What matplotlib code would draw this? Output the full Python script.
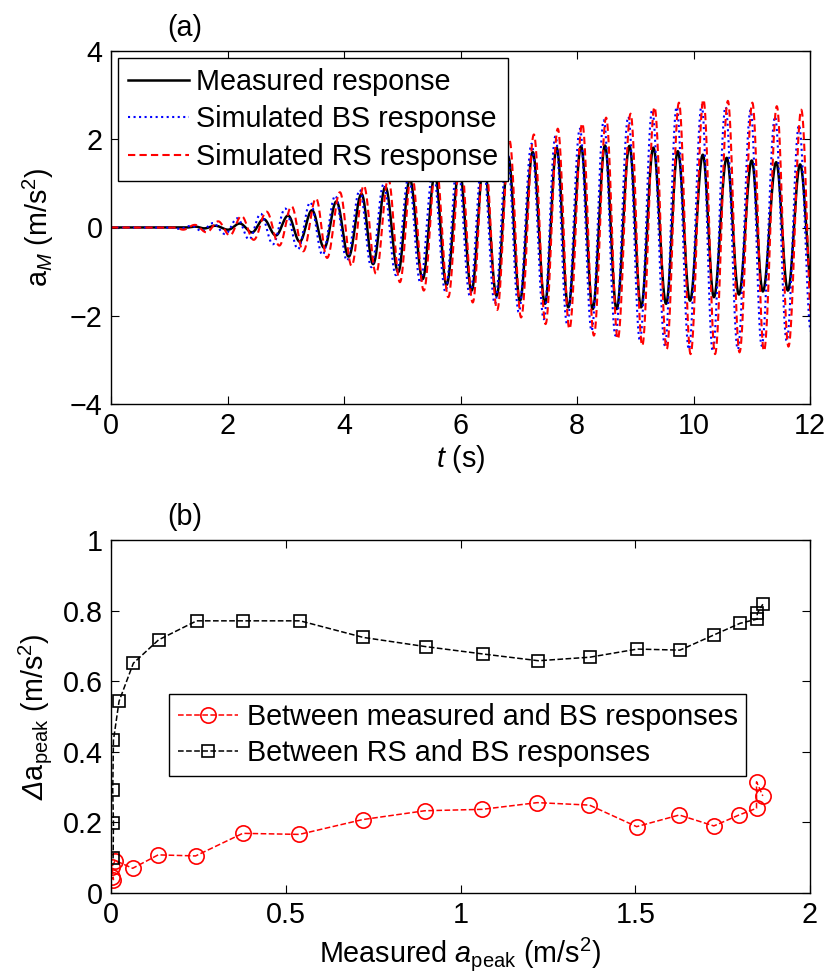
import numpy as np
import matplotlib
matplotlib.use('Agg')
import matplotlib.pyplot as plt
from matplotlib.ticker import FormatStrFormatter

plt.rcParams['font.family'] = ['Liberation Sans', 'DejaVu Sans']
plt.rcParams['mathtext.fontset'] = 'custom'
plt.rcParams['mathtext.rm'] = 'Liberation Sans'
plt.rcParams['mathtext.it'] = 'Liberation Sans:italic'
plt.rcParams['mathtext.bf'] = 'Liberation Sans:bold'
plt.rcParams['mathtext.sf'] = 'Liberation Sans:italic'

# (a) extremos: tiempos (s) y valores (m/s2)
t_med = [0, 1.3, 1.45, 1.6, 1.79, 2.01, 2.21, 2.42, 2.62, 2.83, 3.04, 3.24, 3.45, 3.66,
         3.87, 4.08, 4.30, 4.50, 4.71, 4.93, 5.13, 5.35, 5.56, 5.76, 5.98, 6.19, 6.40,
         6.62, 6.82, 7.02, 7.24, 7.45, 7.65, 7.85, 8.07, 8.27, 8.48, 8.68, 8.90, 9.10,
         9.31, 9.53, 9.73, 9.94, 10.16, 10.35, 10.57, 10.78, 11.0, 11.19, 11.42, 11.62,
         11.83, 12.04]
a_med = [0, 0, 0.02, -0.02, 0.04, -0.05, 0.09, -0.11, 0.19, -0.18, 0.27, -0.32, 0.39, -0.46,
         0.59, -0.66, 0.76, -0.83, 0.92, -1.01, 1.09, -1.17, 1.20, -1.30, 1.33, -1.43, 1.47,
         -1.55, 1.60, -1.66, 1.71, -1.73, 1.81, -1.81, 1.84, -1.85, 1.86, -1.85, 1.85, -1.81,
         1.81, -1.73, 1.73, -1.66, 1.65, -1.58, 1.58, -1.52, 1.52, -1.45, 1.48, -1.43,
         1.43, -1.42]

t_bs = [0, 1.0, 1.18, 1.38, 1.56, 1.75, 1.96, 2.17, 2.37, 2.57, 2.78, 2.99, 3.21, 3.42, 3.63,
        3.85, 4.05, 4.27, 4.47, 4.68, 4.89, 5.11, 5.31, 5.53, 5.74, 5.95, 6.16, 6.38, 6.59,
        6.80, 7.00, 7.22, 7.43, 7.63, 7.83, 8.05, 8.25, 8.46, 8.66, 8.88, 9.08, 9.29, 9.51,
        9.71, 9.92, 10.14, 10.33, 10.55, 10.76, 10.98, 11.17, 11.40, 11.60, 11.81, 12.02]
a_bs = [0, 0, -0.03, 0.04, -0.08, 0.10, -0.15, 0.21, -0.27, 0.31, -0.38, 0.43, -0.49, 0.57,
        -0.62, 0.72, -0.75, 0.85, -0.90, 0.98, -1.08, 1.15, -1.25, 1.30, -1.45, 1.48, -1.55,
        1.62, -1.73, 1.75, -1.92, 1.90, -2.08, 2.07, -2.19, 2.24, -2.34, 2.43, -2.45, 2.51,
        -2.57, 2.66, -2.68, 2.73, -2.76, 2.77, -2.80, 2.73, -2.76, 2.66, -2.68, 2.51, -2.57,
        2.32, -2.40]

t_rs = [0, 1.1, 1.24, 1.44, 1.64, 1.84, 2.04, 2.24, 2.45, 2.67, 2.89, 3.10, 3.30, 3.52, 3.71,
        3.93, 4.13, 4.34, 4.55, 4.76, 4.96, 5.16, 5.37, 5.58, 5.79, 6.00, 6.21, 6.41, 6.63,
        6.84, 7.04, 7.26, 7.46, 7.67, 7.87, 8.09, 8.29, 8.50, 8.70, 8.92, 9.12, 9.33, 9.54,
        9.75, 9.95, 10.17, 10.37, 10.59, 10.79, 11.01, 11.21, 11.43, 11.63, 11.85, 12.05]
a_rs = [0, 0, -0.05, 0.06, -0.11, 0.14, -0.18, 0.26, -0.28, 0.36, -0.41, 0.48, -0.54, 0.66,
        -0.69, 0.80, -0.87, 0.95, -1.05, 1.11, -1.24, 1.26, -1.43, 1.42, -1.58, 1.60, -1.70,
        1.80, -1.87, 1.98, -2.04, 2.11, -2.19, 2.24, -2.30, 2.36, -2.45, 2.49, -2.53, 2.58,
        -2.68, 2.73, -2.76, 2.83, -2.87, 2.90, -2.87, 2.87, -2.83, 2.83, -2.80, 2.75, -2.70,
        2.67, -2.60]

# (b) diferencias de picos
x_med_bs = [0.004, 0.007, 0.003, 0.012, 0.062, 0.135, 0.242, 0.377, 0.539, 0.720, 0.898,
            1.062, 1.220, 1.369, 1.504, 1.626, 1.725, 1.797, 1.847, 1.847, 1.865]
d_med_bs = [0.045, 0.038, 0.075, 0.092, 0.070, 0.108, 0.105, 0.169, 0.166, 0.208, 0.233,
            0.237, 0.256, 0.249, 0.188, 0.221, 0.190, 0.221, 0.240, 0.315, 0.275]
x_rs_bs = [0.006, 0.007, 0.005, 0.007, 0.023, 0.064, 0.136, 0.245, 0.379, 0.541, 0.722,
           0.900, 1.065, 1.223, 1.370, 1.506, 1.628, 1.725, 1.800, 1.849, 1.849, 1.865]
d_rs_bs = [0.098, 0.199, 0.291, 0.433, 0.543, 0.651, 0.717, 0.771, 0.771, 0.771, 0.724,
           0.698, 0.677, 0.658, 0.668, 0.691, 0.688, 0.731, 0.764, 0.776, 0.792, 0.818]


def curva(tx, ax_):
    # media onda coseno entre extremos consecutivos
    tt, aa = [], []
    for i in range(len(tx) - 1):
        s = np.linspace(0, 1, 30, endpoint=False)
        tt.append(tx[i] + s * (tx[i + 1] - tx[i]))
        aa.append(ax_[i] + (ax_[i + 1] - ax_[i]) * (1 - np.cos(np.pi * s)) / 2)
    return np.concatenate(tt), np.concatenate(aa)


fig = plt.figure(figsize=(8.35, 9.77), dpi=100)
fs = 20.7

ax1 = fig.add_axes([111 / 835, 1 - 404 / 977, 699 / 835, 353 / 977])
t, a = curva(t_med, a_med)
ax1.plot(t, a, color='black', lw=1.8, label='Measured response')
t, a = curva(t_bs, a_bs)
ax1.plot(t, a, color='blue', lw=1.5, ls=':', label='Simulated BS response')
t, a = curva(t_rs, a_rs)
ax1.plot(t, a, color='red', lw=1.5, ls='--', dashes=(3.5, 2), label='Simulated RS response')
ax1.set_xlim(0, 12)
ax1.set_ylim(-4, 4)
ax1.set_xticks(np.arange(0, 13, 2))
ax1.set_yticks(np.arange(-4, 5, 2))
ax1.set_xlabel(r'$t$ (s)', fontsize=fs, labelpad=2)
ax1.set_ylabel(r'a$_M$ (m/s$^2$)', fontsize=fs, labelpad=10)
leg = ax1.legend(loc='upper left', fontsize=fs, frameon=True, fancybox=False,
                 edgecolor='black', framealpha=1, borderaxespad=0.25,
                 handlelength=2.1, handletextpad=0.25, labelspacing=0.32, borderpad=0.35)
leg.get_frame().set_linewidth(1.0)

ax2 = fig.add_axes([111 / 835, 1 - 893 / 977, 699 / 835, 353 / 977])
ax2.plot(x_med_bs, d_med_bs, color='red', ls='--', lw=1.1, marker='o', ms=11,
         mfc='none', mec='red', mew=1.2, label='Between measured and BS responses')
ax2.plot(x_rs_bs, d_rs_bs, color='black', ls='--', lw=1.1, marker='s', ms=8.5,
         mfc='none', mec='black', mew=1.2, label='Between RS and BS responses')
ax2.set_xlim(0, 2)
ax2.set_ylim(0, 1)
ax2.set_xticks(np.arange(0, 2.01, 0.5))
ax2.set_yticks(np.arange(0, 1.01, 0.2))
ax2.xaxis.set_major_formatter(FormatStrFormatter('%g'))
ax2.yaxis.set_major_formatter(FormatStrFormatter('%g'))
ax2.set_xlabel(r'Measured $a_{\mathrm{peak}}$ (m/s$^2$)', fontsize=fs, labelpad=4)
ax2.set_ylabel(r'$\mathsf{\Delta}$a$_{\mathrm{peak}}$ (m/s$^2$)', fontsize=fs, labelpad=6)
leg2 = ax2.legend(loc='lower left', bbox_to_anchor=(58 / 699, 117 / 353), fontsize=fs,
                  frameon=True, fancybox=False, edgecolor='black', framealpha=1,
                  handlelength=2.1, handletextpad=0.3, labelspacing=0.3, borderpad=0.3,
                  borderaxespad=0)
leg2.get_frame().set_linewidth(1.0)

for ax in (ax1, ax2):
    ax.tick_params(direction='in', top=True, right=True, length=6, width=0.8,
                   labelsize=fs, pad=6)
    for sp in ax.spines.values():
        sp.set_linewidth(1.0)

fig.text(185 / 835, 1 - 28 / 977, '(a)', fontsize=fs, ha='center', va='center')
fig.text(185 / 835, 1 - 517 / 977, '(b)', fontsize=fs, ha='center', va='center')

fig.savefig('out.png', dpi=100)
